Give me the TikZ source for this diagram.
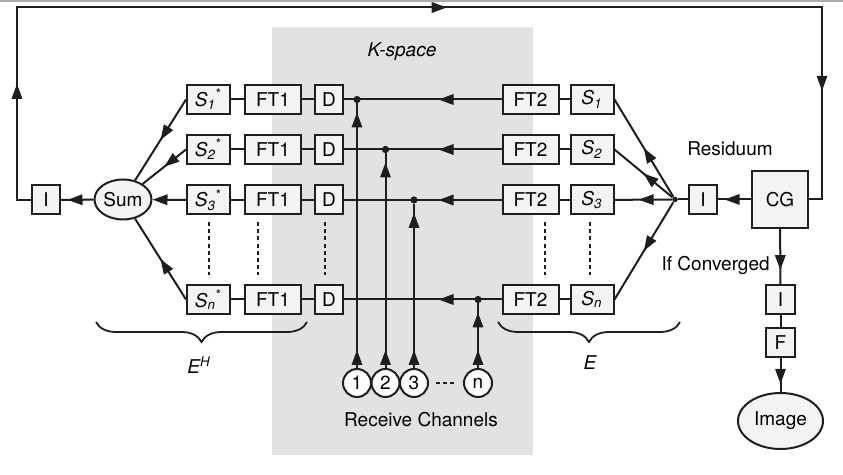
\documentclass[tikz,border=0pt]{standalone}
\usepackage{fontspec}
\setmainfont{TeX Gyre Heros}
\usetikzlibrary{shapes.geometric, arrows.meta, positioning, calc, decorations.pathreplacing, decorations.markings}
\definecolor{kspacegray}{RGB}{226, 226, 226}
\definecolor{boxgray}{RGB}{243, 243, 243}
\definecolor{linegray}{RGB}{30, 30, 30}

\begin{document}
\begin{tikzpicture}[
    x=0.5pt, y=-0.5pt,
    font=\fontsize{9.5}{11}\selectfont,
    box/.style={rectangle, draw=linegray, fill=boxgray, line width=1pt, minimum height=14.5pt, inner sep=1pt},
    sbox/.style={box, minimum width=21.5pt},
    ftbox/.style={box, minimum width=28pt},
    dbox/.style={box, minimum width=14pt},
    oval/.style={ellipse, draw=linegray, fill=boxgray, line width=1pt, inner sep=0pt},
    chan/.style={circle, draw=linegray, fill=white, line width=1pt, minimum size=14pt, inner sep=0pt},
    junction/.style={circle, fill=linegray, minimum size=3.6pt, inner sep=0pt},
    line/.style={draw=linegray, line width=1pt},
    arrow/.style={line, -{Triangle[length=7.5pt, width=5.2pt]}},
    midarrow/.style={line, postaction={decorate}, decoration={markings, mark=at position #1 with {\arrow{Triangle[length=7.5pt, width=5.2pt]}}}},
    midarrow/.default=0.5,
    feed/.style={line, postaction={decorate}, decoration={markings,
        mark=at position 9pt with {\arrow{Triangle[length=7.5pt, width=5.2pt]}},
        mark=at position -4.5pt with {\arrow{Triangle[length=7.5pt, width=5.2pt]}}}},
    dashline/.style={draw=linegray, line width=0.7pt, dash pattern=on 2pt off 1.6pt},
    brace/.style={draw=linegray, line width=0.9pt, decorate, decoration={brace, mirror, amplitude=10pt, aspect=0.5}},
    label/.style={font=\fontsize{9.5}{11}\selectfont\itshape}
]
\useasboundingbox (0,0) rectangle (843,475);

% Hintergrund: K-space Feld und oberer Rand
\fill[gray!65] (0,0) rectangle (843,2.5);
\fill[kspacegray] (272,27) rectangle (533,455);
\node[label] (kspace) at (402,52) {K-space};

% Zeile 1
\node[sbox] (s1c) at (208.5,99.5) {\textit{S\textsubscript{1}}\textsuperscript{*}};
\node[ftbox, right=6.5pt of s1c] (fta1) {FT1};
\node[dbox, right=6pt of fta1] (d1) {D};
\node[ftbox] (ftb1) at (530.5,99.5) {FT2};
\node[sbox, right=5pt of ftb1] (s1) {\textit{S\textsubscript{1}}};

% Zeile 2
\node[sbox] (s2c) at (208.5,149.5) {\textit{S\textsubscript{2}}\textsuperscript{*}};
\node[ftbox, right=6.5pt of s2c] (fta2) {FT1};
\node[dbox, right=6pt of fta2] (d2) {D};
\node[ftbox] (ftb2) at (530.5,149.5) {FT2};
\node[sbox, right=5pt of ftb2] (s2) {\textit{S\textsubscript{2}}};

% Zeile 3
\node[sbox] (s3c) at (208.5,200) {\textit{S\textsubscript{3}}\textsuperscript{*}};
\node[ftbox, right=6.5pt of s3c] (fta3) {FT1};
\node[dbox, right=6pt of fta3] (d3) {D};
\node[ftbox] (ftb3) at (530.5,200) {FT2};
\node[sbox, right=5pt of ftb3] (s3) {\textit{S\textsubscript{3}}};

% Zeile n
\node[sbox] (snc) at (208.5,299.5) {\textit{S\textsubscript{n}}\textsuperscript{*}};
\node[ftbox, right=6.5pt of snc] (ftan) {FT1};
\node[dbox, right=6pt of ftan] (dn) {D};
\node[ftbox] (ftbn) at (530.5,299.5) {FT2};
\node[sbox, right=5pt of ftbn] (sn) {\textit{S\textsubscript{n}}};

% Empfangskanaele
\node[chan] (c1) at (357,383) {1};
\node[chan] (c2) at (385.5,383) {2};
\node[chan] (c3) at (414,383) {3};
\node[chan] (cn) at (478,383) {n};
\node (recv) at (421,420) {Receive Channels};

\node[junction] (j1) at (357,99.5) {};
\node[junction] (j2) at (385.5,149.5) {};
\node[junction] (j3) at (414,200) {};
\node[junction] (jn) at (478,299.5) {};

% Verbindungen in den Zeilen
\draw[line] (s1c) -- (fta1) (fta1) -- (d1) (ftb1) -- (s1);
\draw[line] (s2c) -- (fta2) (fta2) -- (d2) (ftb2) -- (s2);
\draw[line] (s3c) -- (fta3) (fta3) -- (d3) (ftb3) -- (s3);
\draw[line] (snc) -- (ftan) (ftan) -- (dn) (ftbn) -- (sn);
\draw[midarrow=0.4] (ftb1) -- (d1);
\draw[midarrow=0.4] (ftb2) -- (d2);
\draw[midarrow=0.4] (ftb3) -- (d3);
\draw[midarrow=0.4] (ftbn) -- (dn);

\draw[feed] (c1) -- (j1);
\draw[feed] (c2) -- (j2);
\draw[feed] (c3) -- (j3);
\draw[feed] (cn) -- (jn);
\draw[dashline, shorten <=3.5pt, shorten >=3.5pt] (c3) -- (cn);

% gestrichelte Spalten
\draw[dashline] (209,222) -- (209,275) (258,222) -- (258,275) (325,222) -- (325,275);
\draw[dashline] (545,222) -- (545,275) (590,222) -- (590,275);

% Linke Seite: Summe
\node[oval, minimum width=28.5pt, minimum height=20pt] (sum) at (123,199.5) {Sum};
\node[dbox] (il) at (46,200) {I};
\draw[midarrow] (s1c.west) -- (sum);
\draw[midarrow] (s2c.west) -- (sum);
\draw[arrow] (s3c) -- (sum);
\draw[midarrow] (snc.west) -- (sum);
\draw[midarrow=0.8] (sum) -- (il);

% Rechte Seite: CG und Residuum
\node[box, minimum width=28pt, minimum height=28.5pt] (cg) at (780,199.5) {CG};
\node[dbox] (ir) at (703,199.5) {I};
\node[junction, minimum size=2.8pt] (fan) at (675,199.5) {};
\node (resid) at (730,149) {Residuum};
\draw[midarrow=0.8] (cg) -- (ir);
\draw[line] (ir) -- (fan);
\draw[midarrow] (fan) -- (s1.east);
\draw[midarrow] (fan) -- (s2.east);
\draw[midarrow=0.58] (fan) -- (s3);
\draw[midarrow] (fan) -- (sn.east);

% Rueckfuehrung oben
\coordinate (tl) at (17,7.5);
\coordinate (tr) at (822,7.5);
\draw[line, postaction={decorate}, decoration={markings,
    mark=at position 0.107 with {\arrow{Triangle[length=7.5pt, width=5.2pt]}},
    mark=at position 0.523 with {\arrow{Triangle[length=7.5pt, width=5.2pt]}},
    mark=at position 0.9 with {\arrow{Triangle[length=7.5pt, width=5.2pt]}}}]
    (il.west) -| (tl) -- (tr) |- (cg.east);

% Ausgang
\node[box, minimum width=14.5pt] (ib) at (780.5,300) {I};
\node[box, minimum width=14.5pt] (f) at (780.5,342.5) {F};
\node[oval, minimum width=42.5pt, minimum height=28pt] (image) at (780.5,421) {Image};
\draw[midarrow=0.74] (cg) -- node[pos=0.66, left=1.5pt] (conv) {If Converged} (ib);
\draw[line] (ib) -- (f);
\draw[midarrow=0.76] (f) -- (image);

% Klammern
\draw[brace] (96,322) -- (307,322);
\draw[brace] (498,322) -- (680,322);
\node[label] (eh) at (199,365) {E\textsuperscript{H}};
\node[label] (e) at (590,363) {E};

\end{tikzpicture}
\end{document}
